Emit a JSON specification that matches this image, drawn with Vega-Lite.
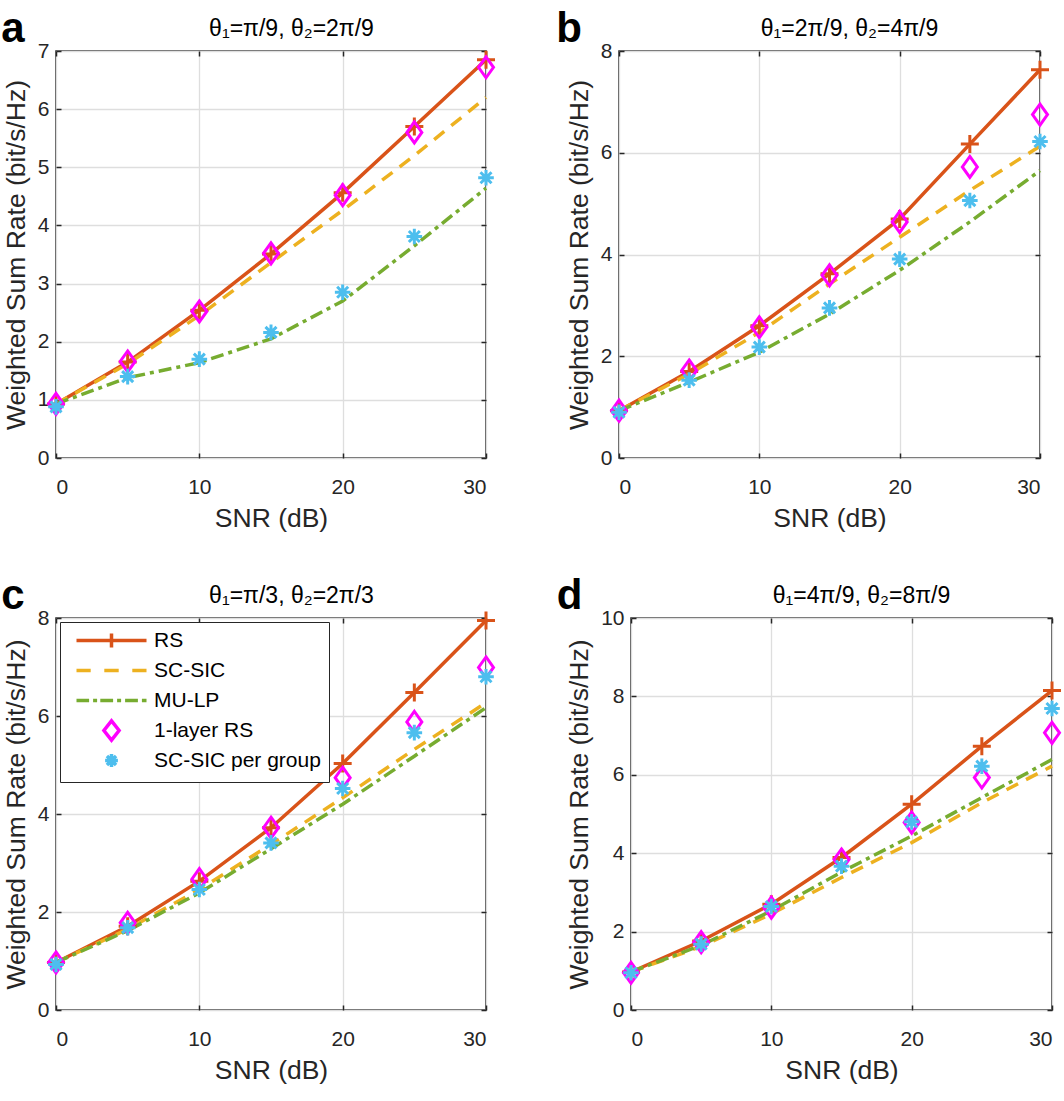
{
  "$schema": "https://vega.github.io/schema/vega-lite/v6.json",
  "background": "white",
  "padding": {"left": 0, "top": 7, "right": 0, "bottom": 0},
  "datasets": {
    "a": [
      {"snr": 0, "RS": 0.93, "SCSIC": 0.93, "MULP": 0.93, "RS1": 0.93, "SICG": 0.88},
      {"snr": 5, "RS": 1.65, "SCSIC": 1.62, "MULP": 1.38, "RS1": 1.66, "SICG": 1.40},
      {"snr": 10, "RS": 2.54, "SCSIC": 2.45, "MULP": 1.64, "RS1": 2.52, "SICG": 1.70},
      {"snr": 15, "RS": 3.51, "SCSIC": 3.36, "MULP": 2.05, "RS1": 3.52, "SICG": 2.16},
      {"snr": 20, "RS": 4.56, "SCSIC": 4.26, "MULP": 2.70, "RS1": 4.52, "SICG": 2.85},
      {"snr": 25, "RS": 5.70, "SCSIC": 5.20, "MULP": 3.65, "RS1": 5.60, "SICG": 3.81},
      {"snr": 30, "RS": 6.85, "SCSIC": 6.20, "MULP": 4.64, "RS1": 6.72, "SICG": 4.82}
    ],
    "b": [
      {"snr": 0, "RS": 0.93, "SCSIC": 0.93, "MULP": 0.93, "RS1": 0.93, "SICG": 0.90},
      {"snr": 5, "RS": 1.70, "SCSIC": 1.65, "MULP": 1.49, "RS1": 1.72, "SICG": 1.53},
      {"snr": 10, "RS": 2.60, "SCSIC": 2.47, "MULP": 2.08, "RS1": 2.57, "SICG": 2.18},
      {"snr": 15, "RS": 3.62, "SCSIC": 3.42, "MULP": 2.83, "RS1": 3.59, "SICG": 2.95},
      {"snr": 20, "RS": 4.70, "SCSIC": 4.34, "MULP": 3.69, "RS1": 4.64, "SICG": 3.91},
      {"snr": 25, "RS": 6.17, "SCSIC": 5.26, "MULP": 4.64, "RS1": 5.72, "SICG": 5.06},
      {"snr": 30, "RS": 7.63, "SCSIC": 6.13, "MULP": 5.65, "RS1": 6.75, "SICG": 6.22}
    ],
    "c": [
      {"snr": 0, "RS": 0.97, "SCSIC": 0.97, "MULP": 0.97, "RS1": 0.97, "SICG": 0.93},
      {"snr": 5, "RS": 1.71, "SCSIC": 1.65, "MULP": 1.62, "RS1": 1.78, "SICG": 1.68},
      {"snr": 10, "RS": 2.63, "SCSIC": 2.46, "MULP": 2.39, "RS1": 2.67, "SICG": 2.46},
      {"snr": 15, "RS": 3.72, "SCSIC": 3.38, "MULP": 3.29, "RS1": 3.72, "SICG": 3.41},
      {"snr": 20, "RS": 5.03, "SCSIC": 4.33, "MULP": 4.20, "RS1": 4.74, "SICG": 4.52},
      {"snr": 25, "RS": 6.48, "SCSIC": 5.32, "MULP": 5.18, "RS1": 5.88, "SICG": 5.66},
      {"snr": 30, "RS": 7.95, "SCSIC": 6.27, "MULP": 6.17, "RS1": 6.99, "SICG": 6.80}
    ],
    "d": [
      {"snr": 0, "RS": 0.97, "SCSIC": 0.97, "MULP": 0.97, "RS1": 0.95, "SICG": 0.95},
      {"snr": 5, "RS": 1.76, "SCSIC": 1.62, "MULP": 1.65, "RS1": 1.73, "SICG": 1.68},
      {"snr": 10, "RS": 2.70, "SCSIC": 2.45, "MULP": 2.53, "RS1": 2.61, "SICG": 2.64},
      {"snr": 15, "RS": 3.89, "SCSIC": 3.38, "MULP": 3.52, "RS1": 3.84, "SICG": 3.67},
      {"snr": 20, "RS": 5.25, "SCSIC": 4.27, "MULP": 4.44, "RS1": 4.78, "SICG": 4.80},
      {"snr": 25, "RS": 6.73, "SCSIC": 5.29, "MULP": 5.42, "RS1": 5.93, "SICG": 6.22},
      {"snr": 30, "RS": 8.15, "SCSIC": 6.22, "MULP": 6.39, "RS1": 7.07, "SICG": 7.69}
    ],
    "legend": [{"series": "RS"}]
  },
  "config": {
    "font": "Liberation Sans",
    "view": {"stroke": "#262626", "strokeWidth": 1.5},
    "axis": {
      "domain": false,
      "labelFontSize": 21,
      "labelColor": "#262626",
      "titleFontSize": 26.5,
      "titleFontWeight": "normal",
      "titleColor": "#262626",
      "tickColor": "#262626",
      "tickSize": -5,
      "tickWidth": 1.5,
      "gridColor": "#dedede",
      "gridWidth": 1.3
    },
    "axisX": {"labelPadding": 23, "titlePadding": 8},
    "axisY": {"labelPadding": 12, "titlePadding": 7},
    "title": {"fontSize": 42, "fontWeight": "bold", "color": "black", "anchor": "start", "frame": "bounds", "offset": -34}
  },
  "resolve": {"scale": {"color": "independent", "shape": "independent"}, "legend": {"color": "independent", "shape": "independent"}},
  "spacing": 41,
  "vconcat": [
    {
      "spacing": 53,
      "resolve": {"scale": {"color": "independent", "shape": "independent"}, "legend": {"color": "independent", "shape": "independent"}},
      "hconcat": [
        {
          "title": {"text": "a", "dx": -2},
          "width": 430, "height": 407,
          "data": {"name": "a"},
          "resolve": {"axis": {"x": "independent", "y": "independent"}},
          "layer": [
            {"mark": {"type": "line", "color": "#D95319", "strokeWidth": 3.5},
             "encoding": {
               "x": {"field": "snr", "type": "quantitative", "scale": {"domain": [0, 30], "nice": false}, "axis": {"orient": "bottom", "values": [0, 10, 20, 30], "title": "SNR (dB)", "grid": true}},
               "y": {"field": "RS", "type": "quantitative", "scale": {"domain": [0, 7], "nice": false}, "axis": {"orient": "left", "values": [0, 1, 2, 3, 4, 5, 6, 7], "title": "Weighted Sum Rate (bit/s/Hz)", "grid": true}}}},
            {"mark": {"type": "line", "color": "#EDB120", "strokeWidth": 3.5, "strokeDash": [13, 9]},
             "encoding": {
               "x": {"field": "snr", "type": "quantitative", "axis": {"orient": "top", "values": [0, 10, 20, 30], "labels": false, "grid": false, "title": "θ₁=π/9, θ₂=2π/9", "titleFontSize": 23, "titleColor": "black", "titlePadding": 10, "titleX": 235}},
               "y": {"field": "SCSIC", "type": "quantitative", "axis": {"orient": "right", "values": [0, 1, 2, 3, 4, 5, 6, 7], "labels": false, "grid": false, "title": null}}}},
            {"mark": {"type": "line", "color": "#77AC30", "strokeWidth": 3.5, "strokeDash": [13, 5, 4, 5]},
             "encoding": {"x": {"field": "snr", "type": "quantitative", "axis": null}, "y": {"field": "MULP", "type": "quantitative", "axis": null}}},
            {"mark": {"type": "point", "shape": "M-0.9,0L0.9,0M0,-0.9L0,0.9", "size": 400, "filled": false, "color": "#D95319", "strokeWidth": 3, "opacity": 1},
             "encoding": {"x": {"field": "snr", "type": "quantitative", "axis": null}, "y": {"field": "RS", "type": "quantitative", "axis": null}}},
            {"mark": {"type": "point", "shape": "M0,-1.05L0.75,0L0,1.05L-0.75,0Z", "size": 400, "filled": false, "color": "#FF00FF", "strokeWidth": 3, "opacity": 1},
             "encoding": {"x": {"field": "snr", "type": "quantitative", "axis": null}, "y": {"field": "RS1", "type": "quantitative", "axis": null}}},
            {"mark": {"type": "point", "shape": "M0,-0.78L0,0.78M-0.78,0L0.78,0M-0.55,-0.55L0.55,0.55M-0.55,0.55L0.55,-0.55", "size": 400, "filled": false, "color": "#4DBEEE", "strokeWidth": 3, "opacity": 1},
             "encoding": {"x": {"field": "snr", "type": "quantitative", "axis": null}, "y": {"field": "SICG", "type": "quantitative", "axis": null}}}
          ]
        },
        {
          "title": {"text": "b", "dx": -10},
          "width": 421, "height": 407,
          "data": {"name": "b"},
          "resolve": {"axis": {"x": "independent", "y": "independent"}},
          "layer": [
            {"mark": {"type": "line", "color": "#D95319", "strokeWidth": 3.5},
             "encoding": {
               "x": {"field": "snr", "type": "quantitative", "scale": {"domain": [0, 30], "nice": false}, "axis": {"orient": "bottom", "values": [0, 10, 20, 30], "title": "SNR (dB)", "grid": true}},
               "y": {"field": "RS", "type": "quantitative", "scale": {"domain": [0, 8], "nice": false}, "axis": {"orient": "left", "values": [0, 2, 4, 6, 8], "title": "Weighted Sum Rate (bit/s/Hz)", "grid": true}}}},
            {"mark": {"type": "line", "color": "#EDB120", "strokeWidth": 3.5, "strokeDash": [13, 9]},
             "encoding": {
               "x": {"field": "snr", "type": "quantitative", "axis": {"orient": "top", "values": [0, 10, 20, 30], "labels": false, "grid": false, "title": "θ₁=2π/9, θ₂=4π/9", "titleFontSize": 23, "titleColor": "black", "titlePadding": 10, "titleX": 230}},
               "y": {"field": "SCSIC", "type": "quantitative", "axis": {"orient": "right", "values": [0, 2, 4, 6, 8], "labels": false, "grid": false, "title": null}}}},
            {"mark": {"type": "line", "color": "#77AC30", "strokeWidth": 3.5, "strokeDash": [13, 5, 4, 5]},
             "encoding": {"x": {"field": "snr", "type": "quantitative", "axis": null}, "y": {"field": "MULP", "type": "quantitative", "axis": null}}},
            {"mark": {"type": "point", "shape": "M-0.9,0L0.9,0M0,-0.9L0,0.9", "size": 400, "filled": false, "color": "#D95319", "strokeWidth": 3, "opacity": 1},
             "encoding": {"x": {"field": "snr", "type": "quantitative", "axis": null}, "y": {"field": "RS", "type": "quantitative", "axis": null}}},
            {"mark": {"type": "point", "shape": "M0,-1.05L0.75,0L0,1.05L-0.75,0Z", "size": 400, "filled": false, "color": "#FF00FF", "strokeWidth": 3, "opacity": 1},
             "encoding": {"x": {"field": "snr", "type": "quantitative", "axis": null}, "y": {"field": "RS1", "type": "quantitative", "axis": null}}},
            {"mark": {"type": "point", "shape": "M0,-0.78L0,0.78M-0.78,0L0.78,0M-0.55,-0.55L0.55,0.55M-0.55,0.55L0.55,-0.55", "size": 400, "filled": false, "color": "#4DBEEE", "strokeWidth": 3, "opacity": 1},
             "encoding": {"x": {"field": "snr", "type": "quantitative", "axis": null}, "y": {"field": "SICG", "type": "quantitative", "axis": null}}}
          ]
        }
      ]
    },
    {
      "spacing": 53,
      "resolve": {"scale": {"color": "independent", "shape": "independent"}, "legend": {"color": "independent", "shape": "independent"}},
      "hconcat": [
        {
          "title": {"text": "c", "dx": -2},
          "width": 430, "height": 392,
          "data": {"name": "c"},
          "resolve": {"axis": {"x": "independent", "y": "independent"}},
          "layer": [
            {"mark": {"type": "line", "color": "#D95319", "strokeWidth": 3.5},
             "encoding": {
               "x": {"field": "snr", "type": "quantitative", "scale": {"domain": [0, 30], "nice": false}, "axis": {"orient": "bottom", "values": [0, 10, 20, 30], "title": "SNR (dB)", "grid": true}},
               "y": {"field": "RS", "type": "quantitative", "scale": {"domain": [0, 8], "nice": false}, "axis": {"orient": "left", "values": [0, 2, 4, 6, 8], "title": "Weighted Sum Rate (bit/s/Hz)", "grid": true}}}},
            {"mark": {"type": "line", "color": "#EDB120", "strokeWidth": 3.5, "strokeDash": [13, 9]},
             "encoding": {
               "x": {"field": "snr", "type": "quantitative", "axis": {"orient": "top", "values": [0, 10, 20, 30], "labels": false, "grid": false, "title": "θ₁=π/3, θ₂=2π/3", "titleFontSize": 23, "titleColor": "black", "titlePadding": 10, "titleX": 235}},
               "y": {"field": "SCSIC", "type": "quantitative", "axis": {"orient": "right", "values": [0, 2, 4, 6, 8], "labels": false, "grid": false, "title": null}}}},
            {"mark": {"type": "line", "color": "#77AC30", "strokeWidth": 3.5, "strokeDash": [13, 5, 4, 5]},
             "encoding": {"x": {"field": "snr", "type": "quantitative", "axis": null}, "y": {"field": "MULP", "type": "quantitative", "axis": null}}},
            {"mark": {"type": "point", "shape": "M-0.9,0L0.9,0M0,-0.9L0,0.9", "size": 400, "filled": false, "color": "#D95319", "strokeWidth": 3, "opacity": 1},
             "encoding": {"x": {"field": "snr", "type": "quantitative", "axis": null}, "y": {"field": "RS", "type": "quantitative", "axis": null}}},
            {"mark": {"type": "point", "shape": "M0,-1.05L0.75,0L0,1.05L-0.75,0Z", "size": 400, "filled": false, "color": "#FF00FF", "strokeWidth": 3, "opacity": 1},
             "encoding": {"x": {"field": "snr", "type": "quantitative", "axis": null}, "y": {"field": "RS1", "type": "quantitative", "axis": null}}},
            {"mark": {"type": "point", "shape": "M0,-0.78L0,0.78M-0.78,0L0.78,0M-0.55,-0.55L0.55,0.55M-0.55,0.55L0.55,-0.55", "size": 400, "filled": false, "color": "#4DBEEE", "strokeWidth": 3, "opacity": 1},
             "encoding": {"x": {"field": "snr", "type": "quantitative", "axis": null}, "y": {"field": "SICG", "type": "quantitative", "axis": null}}},
            {"data": {"name": "legend"},
             "transform": [{"filter": {"field": "series", "equal": "none"}}],
             "mark": {"type": "point", "filled": false, "size": 256, "strokeWidth": 3.5, "opacity": 1},
             "encoding": {
               "color": {"field": "series", "type": "nominal",
                 "scale": {"domain": ["RS", "SC-SIC", "MU-LP", "1-layer RS", "SC-SIC per group"], "range": ["#D95319", "#EDB120", "#77AC30", "#FF00FF", "#4DBEEE"]},
                 "legend": {"title": null, "orient": "top-left", "offset": 4, "padding": 8, "fillColor": "white", "strokeColor": "#262626", "labelFontSize": 21, "labelColor": "black", "labelFont": "Liberation Sans", "symbolSize": 256, "symbolStrokeWidth": 3.5, "symbolOffset": 33, "labelOffset": 32, "rowPadding": -5, "gridAlign": "all", "symbolOpacity": 1, "symbolFillColor": "transparent", "labelLimit": 300}},
               "shape": {"field": "series", "type": "nominal",
                 "scale": {"domain": ["RS", "SC-SIC", "MU-LP", "1-layer RS", "SC-SIC per group"], "range": [
                   "M-4.375,0L4.375,0M0,-0.875L0,0.875",
                   "M-4.375,0L-2.6,0M-0.9,0L0.9,0M2.6,0L4.375,0",
                   "M-4.375,0L-2.8,0M-2.3,0L-1.8,0M-1.4,0L0.2,0M0.7,0L1.2,0M1.7,0L3.3,0M3.8,0L4.375,0",
                   "M0,-1.2L0.95,0L0,1.2L-0.95,0Z",
                   "M0,-0.8L0,0.8M-0.8,0L0.8,0M-0.57,-0.57L0.57,0.57M-0.57,0.57L0.57,-0.57"]},
                 "legend": {"title": null, "orient": "top-left", "offset": 4, "padding": 8, "fillColor": "white", "strokeColor": "#262626", "labelFontSize": 21, "labelColor": "black", "labelFont": "Liberation Sans", "symbolSize": 256, "symbolStrokeWidth": 3.5, "symbolOffset": 33, "labelOffset": 32, "rowPadding": -5, "gridAlign": "all", "symbolOpacity": 1, "symbolFillColor": "transparent", "labelLimit": 300}}}}
          ]
        },
        {
          "title": {"text": "d", "dx": -10},
          "width": 421, "height": 392,
          "data": {"name": "d"},
          "resolve": {"axis": {"x": "independent", "y": "independent"}},
          "layer": [
            {"mark": {"type": "line", "color": "#D95319", "strokeWidth": 3.5},
             "encoding": {
               "x": {"field": "snr", "type": "quantitative", "scale": {"domain": [0, 30], "nice": false}, "axis": {"orient": "bottom", "values": [0, 10, 20, 30], "title": "SNR (dB)", "grid": true}},
               "y": {"field": "RS", "type": "quantitative", "scale": {"domain": [0, 10], "nice": false}, "axis": {"orient": "left", "values": [0, 2, 4, 6, 8, 10], "title": "Weighted Sum Rate (bit/s/Hz)", "grid": true}}}},
            {"mark": {"type": "line", "color": "#EDB120", "strokeWidth": 3.5, "strokeDash": [13, 9]},
             "encoding": {
               "x": {"field": "snr", "type": "quantitative", "axis": {"orient": "top", "values": [0, 10, 20, 30], "labels": false, "grid": false, "title": "θ₁=4π/9, θ₂=8π/9", "titleFontSize": 23, "titleColor": "black", "titlePadding": 10, "titleX": 230}},
               "y": {"field": "SCSIC", "type": "quantitative", "axis": {"orient": "right", "values": [0, 2, 4, 6, 8, 10], "labels": false, "grid": false, "title": null}}}},
            {"mark": {"type": "line", "color": "#77AC30", "strokeWidth": 3.5, "strokeDash": [13, 5, 4, 5]},
             "encoding": {"x": {"field": "snr", "type": "quantitative", "axis": null}, "y": {"field": "MULP", "type": "quantitative", "axis": null}}},
            {"mark": {"type": "point", "shape": "M-0.9,0L0.9,0M0,-0.9L0,0.9", "size": 400, "filled": false, "color": "#D95319", "strokeWidth": 3, "opacity": 1},
             "encoding": {"x": {"field": "snr", "type": "quantitative", "axis": null}, "y": {"field": "RS", "type": "quantitative", "axis": null}}},
            {"mark": {"type": "point", "shape": "M0,-1.05L0.75,0L0,1.05L-0.75,0Z", "size": 400, "filled": false, "color": "#FF00FF", "strokeWidth": 3, "opacity": 1},
             "encoding": {"x": {"field": "snr", "type": "quantitative", "axis": null}, "y": {"field": "RS1", "type": "quantitative", "axis": null}}},
            {"mark": {"type": "point", "shape": "M0,-0.78L0,0.78M-0.78,0L0.78,0M-0.55,-0.55L0.55,0.55M-0.55,0.55L0.55,-0.55", "size": 400, "filled": false, "color": "#4DBEEE", "strokeWidth": 3, "opacity": 1},
             "encoding": {"x": {"field": "snr", "type": "quantitative", "axis": null}, "y": {"field": "SICG", "type": "quantitative", "axis": null}}}
          ]
        }
      ]
    }
  ]
}
